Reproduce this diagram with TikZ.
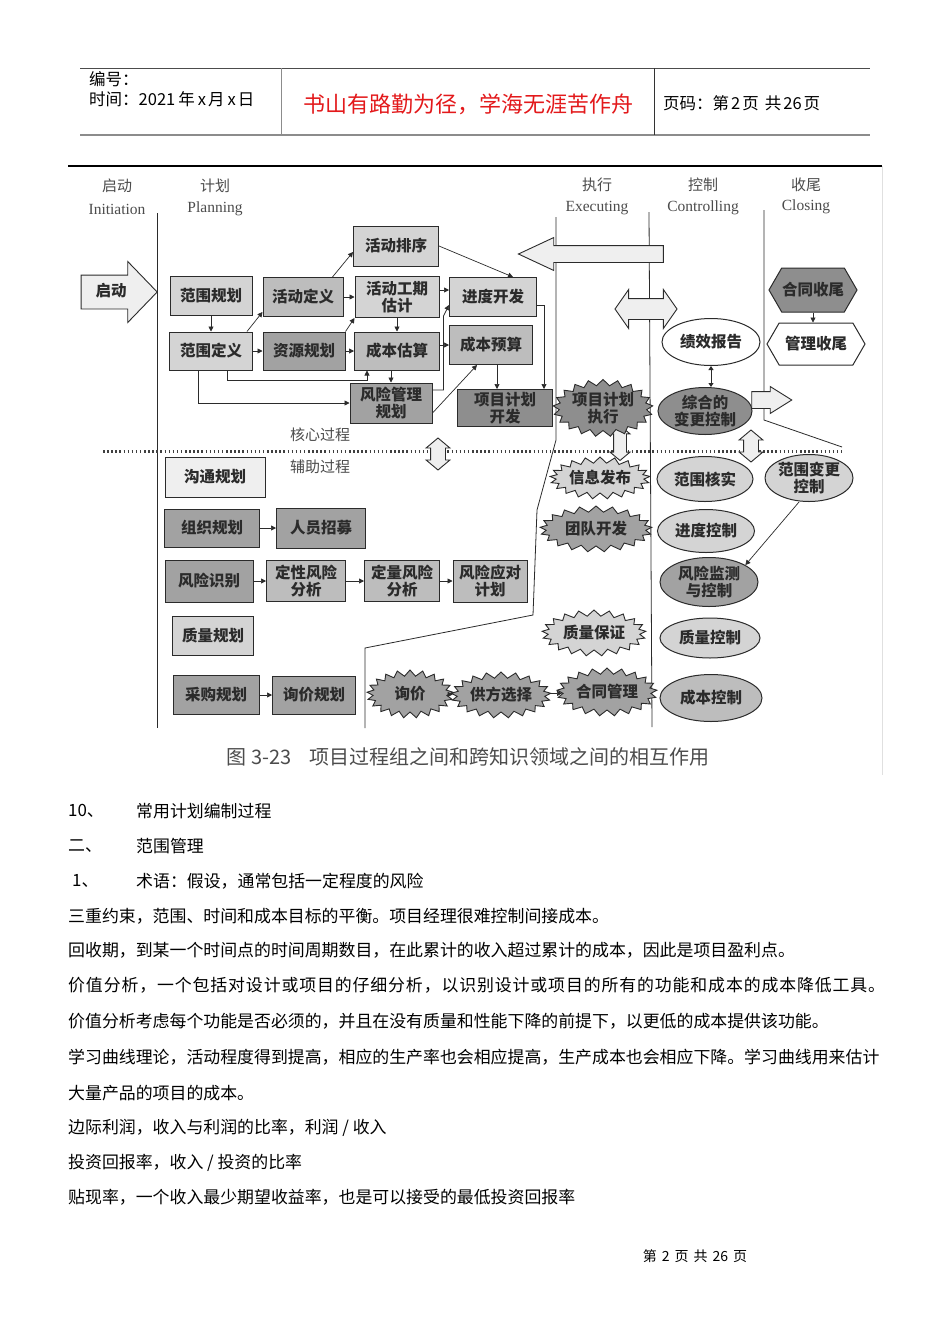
\documentclass[tikz,border=0pt]{standalone}
\usepackage{fontspec}
\setmainfont{Liberation Serif}
\newfontfamily\cjk{Noto Sans CJK SC}
\usepackage{tikz}
\usetikzlibrary{shapes.geometric,shapes.symbols,shapes.arrows,arrows.meta}
\definecolor{lite}{HTML}{D4D4D4}
\definecolor{pale}{HTML}{EFEFEF}
\definecolor{mid}{HTML}{BDBDBD}
\definecolor{dark}{HTML}{A2A2A2}
\definecolor{darker}{HTML}{8E8E8E}
\definecolor{ink}{HTML}{2B2B2B}
\definecolor{motto}{HTML}{E3191B}
\tikzset{
  pbox/.style={draw=ink,line width=1pt,inner sep=0pt,align=center,text=ink,font=\cjk\bfseries\fontsize{15.5}{17}\selectfont},
  oval/.style={ellipse,draw=ink,line width=1pt,inner sep=0pt,align=center,text=ink,font=\cjk\bfseries\fontsize{15.5}{17}\selectfont},
  burst/.style={starburst,starburst points=21,starburst point height=6pt,random starburst=0,draw=ink,line width=0.9pt,inner sep=0pt,align=center,text=ink,font=\cjk\bfseries\fontsize{15.5}{17}\selectfont},
  hexa/.style={signal,signal to=east and west,signal pointer angle=120,draw=ink,line width=1pt,inner sep=0pt,align=center,text=ink,font=\cjk\bfseries\fontsize{15.5}{17}\selectfont},
  arr/.style={-{Triangle[length=5pt,width=5pt]},line width=0.7pt,draw=ink},
  blk/.style={draw=ink,line width=0.9pt,fill=pale},
  sep/.style={line width=0.8pt,draw=ink},
  phase/.style={inner sep=0pt,text=black!70,font=\cjk\fontsize{15}{16}\selectfont},
  phaseen/.style={inner sep=0pt,text=black!70,font=\fontsize{15.5}{16}\selectfont},
  bodyline/.style={anchor=west,inner sep=0pt,font=\cjk\fontsize{16.9}{18}\selectfont},
}

\begin{document}
\begin{tikzpicture}[x=1pt,y=-1pt]
\useasboundingbox[fill=white] (0,0) rectangle (950,1344);

\draw[black!70,line width=0.8pt] (80,68) -- (870,68);
\draw[black!45,line width=2pt] (80,135) -- (870,135);
\draw[black!45,line width=1pt] (281,68) -- (281,135);
\draw[black!80,line width=1pt] (654,68) -- (654,135);
\node[anchor=west,inner sep=0pt,font=\cjk\fontsize{16.5}{17}\selectfont] (num) at (89,79) {编号：};
\node[anchor=west,inner sep=0pt,font=\cjk\fontsize{16.5}{17}\selectfont] (date) at (89,99) {时间：2021\hspace{3pt}年\hspace{3pt}x\hspace{2pt}月\hspace{3pt}x\hspace{2pt}日};
\node[inner sep=0pt,text=motto,font=\cjk\fontsize{22}{24}\selectfont] (motto) at (468,104) {书山有路勤为径，学海无涯苦作舟};
\node[anchor=west,inner sep=0pt,font=\cjk\fontsize{16.5}{17}\selectfont] (pg) at (663,103) {页码：第\hspace{2pt}2\hspace{2pt}页\hspace{6pt}共\hspace{2pt}26\hspace{2pt}页};

\draw[line width=1.2pt] (68,166) -- (882,166);
\draw[black!12] (882,166) -- (882,775);
\node[phase] (ini) at (117,186) {启动};
\node[phaseen] (inien) at (117,209) {Initiation};
\node[phase] (pla) at (215,186) {计划};
\node[phaseen] (plaen) at (215,209) {Planning};
\node[phase] (exe) at (597,185) {执行};
\node[phaseen] (exeen) at (597,208) {Executing};
\node[phase] (con) at (703,185) {控制};
\node[phaseen] (conen) at (703,208) {Controlling};
\node[phase] (clo) at (806,185) {收尾};
\node[phaseen] (cloen) at (806,207) {Closing};

\draw[sep] (157,213) -- (157,728);
\draw[sep] (556,217) -- (556,440) -- (537,510) -- (533,615) -- (365,648) -- (365,728);
\draw[sep] (649,212) -- (652,727);
\draw[sep] (764,210) -- (764,420) -- (842,447);
\draw[line width=3pt,dash pattern=on 1.5pt off 2.6pt,black!75] (103,451) -- (842,451);
\node[phase] (core) at (320,435) {核心过程};
\node[phase] (aux) at (320,467) {辅助过程};

\node[blk,single arrow,single arrow head extend=13.5pt,single arrow tip angle=92,minimum height=76pt,text height=11pt,text depth=3pt,inner ysep=9.5pt,inner xsep=2pt,text=ink,font=\cjk\bfseries\fontsize{15.5}{16}\selectfont] (init) at (111,292) {启动};
\node[blk,single arrow,shape border rotate=180,single arrow head extend=8pt,single arrow tip angle=50,minimum height=145pt,inner sep=8pt] (back) at (600,254) {};
\node[blk,double arrow,double arrow head extend=9pt,double arrow tip angle=110,minimum height=62pt,inner sep=10pt] (link) at (646,309) {};
\node[blk,single arrow,single arrow head extend=5pt,single arrow tip angle=64,minimum height=40pt,inner sep=8pt] (out) at (765,400) {};
\node[blk,double arrow,shape border rotate=90,double arrow head extend=4.5pt,double arrow tip angle=100,minimum height=32pt,inner sep=7pt] (vd1) at (438,454) {};
\node[blk,double arrow,shape border rotate=90,double arrow head extend=3.5pt,double arrow tip angle=100,minimum height=35pt,inner sep=6pt] (vd2) at (620,443) {};
\node[blk,double arrow,shape border rotate=90,double arrow head extend=4.5pt,double arrow tip angle=100,minimum height=32pt,inner sep=7pt] (vd3) at (751,446) {};

\node[pbox,fill=lite,minimum width=82pt,minimum height=39pt] (sp) at (211,296) {范围规划};
\node[pbox,fill=lite,minimum width=83pt,minimum height=38pt] (sd) at (211,351) {范围定义};
\node[pbox,fill=mid,minimum width=80pt,minimum height=39pt] (ad) at (303,297) {活动定义};
\node[pbox,fill=dark,minimum width=82pt,minimum height=38pt] (rp) at (304,351) {资源规划};
\node[pbox,fill=lite,minimum width=85pt,minimum height=40pt] (as) at (396,246) {活动排序};
\node[pbox,fill=lite,minimum width=84pt,minimum height=41pt] (ae) at (397,297) {活动工期\\估计};
\node[pbox,fill=mid,minimum width=85pt,minimum height=38pt] (ce) at (397,351) {成本估算};
\node[pbox,fill=dark,minimum width=82pt,minimum height=40pt] (rm) at (391,403) {风险管理\\规划};
\node[pbox,fill=lite,minimum width=87pt,minimum height=39pt] (sdv) at (493,297) {进度开发};
\node[pbox,fill=mid,minimum width=83pt,minimum height=39pt] (cb) at (491,345) {成本预算};
\node[pbox,fill=darker,minimum width=95pt,minimum height=37pt] (pd) at (505,408) {项目计划\\开发};

\draw[arr] (sp) -- (sd);
\draw[arr] ([xshift=-6pt]sd.north east) -- ([yshift=5pt]ad.south west);
\draw[arr] (sd) -- (rp);
\draw[arr] ([xshift=-11pt]ad.north east) -- ([yshift=-6pt]as.west);
\draw[arr] (ad) -- (ae);
\draw[arr] (rp.north east) -- (ae.south west);
\draw[arr] (rp) -- (ce);
\draw[arr] (ae) -- (ce);
\draw[arr] (as.east) -- ([xshift=20pt]sdv.north);
\draw[arr] ([yshift=7pt]ae.east) -- ([yshift=7pt]sdv.west);
\draw[arr] ([yshift=6pt]ce.east) -- (cb.west);
\draw[arr] (rm.north |- ce.south) -- (rm.north);
\draw[arr] ([xshift=16pt]sd.south) -- ++(0,10) -| ([xshift=-30pt]ce.south);
\draw[arr] ([xshift=-13pt]sd.south) |- (rm.west);
\draw[arr] ([yshift=13pt]rm.east) -- ++(11,0) -- ++(0,-74) -- ([yshift=-8pt]sdv.west);
\draw[arr] ([yshift=-10pt]rm.east) -- ([xshift=-14pt]cb.south);
\draw[arr] ([xshift=6pt]cb.south) -- ([xshift=6pt]cb.south |- pd.north);
\draw[arr] ([yshift=-8pt]sdv.east) -| ([xshift=39pt]pd.north);

\node[burst,fill=darker,minimum width=88pt,minimum height=50pt] (pe) at (603,408) {项目计划\\执行};
\node[burst,fill=lite,minimum width=100pt,minimum height=42pt] (ip) at (600,478) {信息发布};
\node[burst,fill=dark,minimum width=112pt,minimum height=46pt] (td) at (596,529) {团队开发};
\node[burst,fill=lite,minimum width=104pt,minimum height=46pt] (qa) at (594,633) {质量保证};
\node[burst,fill=dark,minimum width=86pt,minimum height=48pt] (rq) at (410,694) {询价};
\node[burst,fill=dark,minimum width=86pt,minimum height=46pt] (ss) at (501,695) {供方选择};
\node[burst,fill=dark,minimum width=100pt,minimum height=48pt] (cm) at (607,692) {合同管理};
\draw[arr] (rq) -- (ss);
\draw[arr] (ss) -- (cm);

\node[oval,fill=white,minimum width=98pt,minimum height=47pt] (pr) at (711,342) {绩效报告};
\node[oval,fill=darker,minimum width=94pt,minimum height=47pt] (icc) at (705,411) {综合的\\变更控制};
\node[oval,fill=lite,minimum width=96pt,minimum height=45pt] (sv) at (705,479) {范围核实};
\node[oval,fill=lite,minimum width=88pt,minimum height=47pt] (scc) at (809,478) {范围变更\\控制};
\node[oval,fill=lite,minimum width=97pt,minimum height=43pt] (sc) at (706,531) {进度控制};
\node[oval,fill=dark,minimum width=98pt,minimum height=49pt] (rmc) at (709,582) {风险监测\\与控制};
\node[oval,fill=lite,minimum width=100pt,minimum height=40pt] (qc) at (710,638) {质量控制};
\node[oval,fill=mid,minimum width=102pt,minimum height=47pt] (cc) at (711,698) {成本控制};
\draw[{Triangle[length=4pt,width=5pt]}-{Triangle[length=4pt,width=5pt]},line width=1pt,draw=ink] (pr.south) -- (pr.south |- icc.north);
\draw[arr] ([xshift=-10pt]scc.south) -- (rmc.25);

\node[hexa,fill=darker,minimum width=88pt,minimum height=44pt] (ccl) at (813,290) {合同收尾};
\node[hexa,fill=white,minimum width=98pt,minimum height=42pt] (acl) at (816,344) {管理收尾};
\draw[arr] (ccl.south) -- (ccl.south |- acl.north);

\node[pbox,fill=pale,minimum width=100pt,minimum height=40pt] (cp) at (215,477) {沟通规划};
\node[pbox,fill=dark,minimum width=95pt,minimum height=38pt] (op) at (212,528) {组织规划};
\node[pbox,fill=dark,minimum width=89pt,minimum height=40pt] (sa) at (321,528) {人员招募};
\node[pbox,fill=dark,minimum width=88pt,minimum height=42pt] (ri) at (209,581) {风险识别};
\node[pbox,fill=mid,minimum width=79pt,minimum height=41pt] (qra) at (306,581) {定性风险\\分析};
\node[pbox,fill=mid,minimum width=75pt,minimum height=41pt] (qna) at (402,581) {定量风险\\分析};
\node[pbox,fill=mid,minimum width=74pt,minimum height=42pt] (rrp) at (490,581) {风险应对\\计划};
\node[pbox,fill=lite,minimum width=81pt,minimum height=39pt] (qp) at (213,636) {质量规划};
\node[pbox,fill=dark,minimum width=86pt,minimum height=39pt] (pp) at (216,695) {采购规划};
\node[pbox,fill=dark,minimum width=83pt,minimum height=38pt] (spl) at (314,695) {询价规划};
\draw[arr] (op) -- (sa);
\draw[arr] (ri) -- (qra);
\draw[arr] (qra) -- (qna);
\draw[arr] (qna) -- (rrp);
\draw[arr] (pp) -- (spl);

\node[inner sep=0pt,text=black!70,font=\cjk\fontsize{20}{21}\selectfont] (cap) at (468,757) {图 3-23\hspace{18pt}项目过程组之间和跨知识领域之间的相互作用};

\node[bodyline] (t1a) at (68,811) {10、};
\node[bodyline] (t1b) at (136,811) {常用计划编制过程};
\node[bodyline] (t2a) at (68,846) {二、};
\node[bodyline] (t2b) at (136,846) {范围管理};
\node[bodyline] (t3a) at (72,881) {1、};
\node[bodyline] (t3b) at (136,881) {术语：假设，通常包括一定程度的风险};
\node[bodyline] (t4) at (68,916) {三重约束，范围、时间和成本目标的平衡。项目经理很难控制间接成本。};
\node[bodyline] (t5) at (68,950) {回收期，到某一个时间点的时间周期数目，在此累计的收入超过累计的成本，因此是项目盈利点。};
\node[bodyline,font=\cjk\fontsize{16.9}{18}\selectfont\addfontfeature{LetterSpace=5.2}] (t6) at (68,985) {价值分析，一个包括对设计或项目的仔细分析，以识别设计或项目的所有的功能和成本的成本降低工具。};
\node[bodyline] (t7) at (68,1021) {价值分析考虑每个功能是否必须的，并且在没有质量和性能下降的前提下，以更低的成本提供该功能。};
\node[bodyline] (t8) at (68,1057) {学习曲线理论，活动程度得到提高，相应的生产率也会相应提高，生产成本也会相应下降。学习曲线用来估计};
\node[bodyline] (t9) at (68,1093) {大量产品的项目的成本。};
\node[bodyline] (t10) at (68,1128) {边际利润，收入与利润的比率，利润 / 收入};
\node[bodyline] (t11) at (68,1163) {投资回报率，收入 / 投资的比率};
\node[bodyline] (t12) at (68,1197) {贴现率，一个收入最少期望收益率，也是可以接受的最低投资回报率};
\node[inner sep=0pt,font=\cjk\fontsize{14}{15}\selectfont] (foot) at (695,1256) {第\hspace{5pt}2\hspace{5pt}页\hspace{5pt}共\hspace{5pt}26\hspace{5pt}页};
\end{tikzpicture}
\end{document}
